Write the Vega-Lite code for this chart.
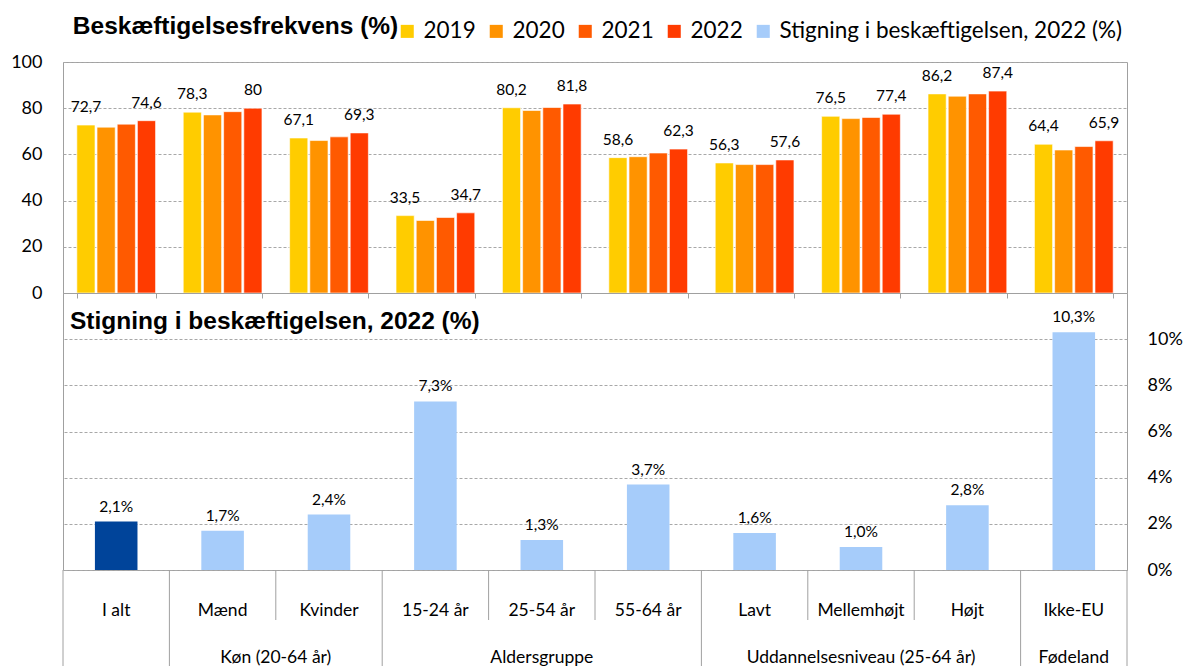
{
  "$schema": "https://vega.github.io/schema/vega-lite/v6.json",
  "background": "white",
  "padding": {"left": 10, "top": 13, "right": 2, "bottom": 0},
  "bounds": "flush",
  "spacing": 0,
  "config": {
    "locale": {"number": {"decimal": ",", "thousands": ".", "grouping": [3], "currency": ["", " kr."]}},
    "view": {"stroke": "#A0A0A0", "strokeWidth": 1},
    "axis": {"labelFont": "Lato", "labelFontSize": 18, "labelColor": "#000000", "gridColor": "#A8A8A8", "gridDash": [3, 2], "gridWidth": 1}
  },
  "datasets": {
    "rates": [
      {"cat": "I alt", "year": "2019", "value": 72.7}, {"cat": "I alt", "year": "2020", "value": 71.8}, {"cat": "I alt", "year": "2021", "value": 73.1}, {"cat": "I alt", "year": "2022", "value": 74.6},
      {"cat": "Mænd", "year": "2019", "value": 78.3}, {"cat": "Mænd", "year": "2020", "value": 77.1}, {"cat": "Mænd", "year": "2021", "value": 78.5}, {"cat": "Mænd", "year": "2022", "value": 80.0},
      {"cat": "Kvinder", "year": "2019", "value": 67.1}, {"cat": "Kvinder", "year": "2020", "value": 66.0}, {"cat": "Kvinder", "year": "2021", "value": 67.6}, {"cat": "Kvinder", "year": "2022", "value": 69.3},
      {"cat": "15-24 år", "year": "2019", "value": 33.5}, {"cat": "15-24 år", "year": "2020", "value": 31.4}, {"cat": "15-24 år", "year": "2021", "value": 32.7}, {"cat": "15-24 år", "year": "2022", "value": 34.7},
      {"cat": "25-54 år", "year": "2019", "value": 80.2}, {"cat": "25-54 år", "year": "2020", "value": 79.0}, {"cat": "25-54 år", "year": "2021", "value": 80.3}, {"cat": "25-54 år", "year": "2022", "value": 81.8},
      {"cat": "55-64 år", "year": "2019", "value": 58.6}, {"cat": "55-64 år", "year": "2020", "value": 59.0}, {"cat": "55-64 år", "year": "2021", "value": 60.6}, {"cat": "55-64 år", "year": "2022", "value": 62.3},
      {"cat": "Lavt", "year": "2019", "value": 56.3}, {"cat": "Lavt", "year": "2020", "value": 55.6}, {"cat": "Lavt", "year": "2021", "value": 55.6}, {"cat": "Lavt", "year": "2022", "value": 57.6},
      {"cat": "Mellemhøjt", "year": "2019", "value": 76.5}, {"cat": "Mellemhøjt", "year": "2020", "value": 75.5}, {"cat": "Mellemhøjt", "year": "2021", "value": 76.0}, {"cat": "Mellemhøjt", "year": "2022", "value": 77.4},
      {"cat": "Højt", "year": "2019", "value": 86.2}, {"cat": "Højt", "year": "2020", "value": 85.2}, {"cat": "Højt", "year": "2021", "value": 86.2}, {"cat": "Højt", "year": "2022", "value": 87.4},
      {"cat": "Ikke-EU", "year": "2019", "value": 64.4}, {"cat": "Ikke-EU", "year": "2020", "value": 61.9}, {"cat": "Ikke-EU", "year": "2021", "value": 63.4}, {"cat": "Ikke-EU", "year": "2022", "value": 65.9}
    ],
    "rise": [
      {"cat": "I alt", "rise": 0.021}, {"cat": "Mænd", "rise": 0.017}, {"cat": "Kvinder", "rise": 0.024},
      {"cat": "15-24 år", "rise": 0.073}, {"cat": "25-54 år", "rise": 0.013}, {"cat": "55-64 år", "rise": 0.037},
      {"cat": "Lavt", "rise": 0.016}, {"cat": "Mellemhøjt", "rise": 0.010}, {"cat": "Højt", "rise": 0.028}, {"cat": "Ikke-EU", "rise": 0.103}
    ],
    "cats": [
      {"cat": "I alt", "groupStart": true}, {"cat": "Mænd", "groupStart": true}, {"cat": "Kvinder", "groupStart": false},
      {"cat": "15-24 år", "groupStart": true}, {"cat": "25-54 år", "groupStart": false}, {"cat": "55-64 år", "groupStart": false},
      {"cat": "Lavt", "groupStart": true}, {"cat": "Mellemhøjt", "groupStart": false}, {"cat": "Højt", "groupStart": false}, {"cat": "Ikke-EU", "groupStart": true}
    ],
    "groups": [
      {"label": "Køn (20-64 år)", "cat": "Mænd", "at": "end"},
      {"label": "Aldersgruppe", "cat": "25-54 år", "at": "mid"},
      {"label": "Uddannelsesniveau (25-64 år)", "cat": "Mellemhøjt", "at": "mid"},
      {"label": "Fødeland", "cat": "Ikke-EU", "at": "mid"}
    ]
  },
  "resolve": {"scale": {"x": "independent", "y": "independent", "color": "independent"}},
  "vconcat": [
    {
      "width": 1064,
      "height": 231,
      "layer": [
        {
          "data": {"name": "rates"},
          "mark": {"type": "bar", "stroke": "#ffffff", "strokeOpacity": 0.6, "strokeWidth": 1},
          "encoding": {
            "x": {"field": "cat", "type": "nominal", "sort": ["I alt", "Mænd", "Kvinder", "15-24 år", "25-54 år", "55-64 år", "Lavt", "Mellemhøjt", "Højt", "Ikke-EU"], "scale": {"paddingInner": 0.26, "paddingOuter": 0.13},
                  "axis": {"title": null, "labels": false, "tickBand": "extent", "ticks": true, "tickSize": 5, "tickColor": "#A0A0A0", "domain": false, "grid": false}},
            "y": {"field": "value", "type": "quantitative", "scale": {"domain": [0, 100]},
                  "axis": {"title": null, "values": [0, 20, 40, 60, 80, 100], "grid": true, "domain": false, "ticks": false, "labelPadding": 21}},
            "xOffset": {"field": "year", "type": "nominal", "scale": {"paddingInner": 0.1}},
            "color": {"field": "year", "type": "nominal",
              "scale": {"domain": ["2019", "2020", "2021", "2022", "Stigning i beskæftigelsen, 2022 (%)"], "range": ["#FFCC00", "#FF9300", "#FF5A00", "#FF3B00", "#A6CCFA"]},
              "legend": {"orient": "none", "legendX": 333, "legendY": -42, "direction": "horizontal", "title": null, "symbolType": "square", "symbolSize": 170, "symbolStrokeWidth": 0, "symbolOpacity": 1, "labelFont": "Lato", "labelFontSize": 22.5, "labelColor": "#000000", "labelOffset": 5, "columnPadding": 9, "labelLimit": 500}}
          }
        },
        {
          "data": {"name": "rates"},
          "transform": [{"filter": "datum.year == '2019' || datum.year == '2022'"}],
          "mark": {"type": "text", "baseline": "alphabetic", "dy": -13, "font": "Lato", "fontSize": 15.5, "color": "#000000"},
          "encoding": {
            "x": {"field": "cat", "type": "nominal", "sort": ["I alt", "Mænd", "Kvinder", "15-24 år", "25-54 år", "55-64 år", "Lavt", "Mellemhøjt", "Højt", "Ikke-EU"]},
            "y": {"field": "value", "type": "quantitative"},
            "xOffset": {"field": "year", "type": "nominal"},
            "text": {"field": "value", "type": "quantitative", "format": ".1~f"}
          }
        },
        {
          "data": {"values": [{"cat": "I alt", "t": "Beskæftigelsesfrekvens (%)"}]},
          "mark": {"type": "text", "align": "left", "baseline": "alphabetic", "dx": -4, "dy": -28, "font": "Liberation Sans", "fontSize": 24.5, "fontWeight": "bold", "color": "#000000"},
          "encoding": {
            "x": {"field": "cat", "type": "nominal", "sort": ["I alt", "Mænd", "Kvinder", "15-24 år", "25-54 år", "55-64 år", "Lavt", "Mellemhøjt", "Højt", "Ikke-EU"], "bandPosition": 0},
            "y": {"datum": 100, "type": "quantitative"},
            "text": {"field": "t", "type": "nominal"}
          }
        }
      ]
    },
    {
      "width": 1064,
      "height": 277,
      "layer": [
        {
          "data": {"name": "rise"},
          "mark": {"type": "bar"},
          "encoding": {
            "x": {"field": "cat", "type": "nominal", "sort": ["I alt", "Mænd", "Kvinder", "15-24 år", "25-54 år", "55-64 år", "Lavt", "Mellemhøjt", "Højt", "Ikke-EU"], "scale": {"paddingInner": 0.6, "paddingOuter": 0.3}, "axis": null},
            "y": {"field": "rise", "type": "quantitative", "scale": {"domain": [0, 0.12]},
                  "axis": {"orient": "right", "title": null, "values": [0, 0.02, 0.04, 0.06, 0.08, 0.1], "format": ".0%", "grid": true, "domain": false, "ticks": false, "labelPadding": 20}},
            "color": {"condition": {"test": "datum.cat === 'I alt'", "value": "#00449A"}, "value": "#A6CCFA"}
          }
        },
        {
          "data": {"name": "rise"},
          "mark": {"type": "text", "baseline": "alphabetic", "dy": -10, "font": "Lato", "fontSize": 15.5, "color": "#000000"},
          "encoding": {
            "x": {"field": "cat", "type": "nominal", "sort": ["I alt", "Mænd", "Kvinder", "15-24 år", "25-54 år", "55-64 år", "Lavt", "Mellemhøjt", "Højt", "Ikke-EU"]},
            "y": {"field": "rise", "type": "quantitative"},
            "text": {"field": "rise", "type": "quantitative", "format": ".1%"}
          }
        },
        {
          "data": {"values": [{"cat": "I alt", "t": "Stigning i beskæftigelsen, 2022 (%)"}]},
          "mark": {"type": "text", "align": "left", "baseline": "alphabetic", "dx": -25, "dy": 36, "font": "Liberation Sans", "fontSize": 24.5, "fontWeight": "bold", "color": "#000000"},
          "encoding": {
            "x": {"field": "cat", "type": "nominal", "sort": ["I alt", "Mænd", "Kvinder", "15-24 år", "25-54 år", "55-64 år", "Lavt", "Mellemhøjt", "Højt", "Ikke-EU"], "bandPosition": 0},
            "y": {"datum": 0.12, "type": "quantitative"},
            "text": {"field": "t", "type": "nominal"}
          }
        }
      ]
    },
    {
      "width": 1064,
      "height": 96,
      "view": {"stroke": null},
      "encoding": {
        "x": {"field": "cat", "type": "nominal", "sort": ["I alt", "Mænd", "Kvinder", "15-24 år", "25-54 år", "55-64 år", "Lavt", "Mellemhøjt", "Højt", "Ikke-EU"], "scale": {"paddingInner": 0, "paddingOuter": 0}, "axis": null}
      },
      "layer": [
        {
          "data": {"name": "cats"},
          "mark": {"type": "text", "baseline": "alphabetic", "font": "Lato", "fontSize": 17.5, "color": "#000000"},
          "encoding": {"text": {"field": "cat"}, "y": {"datum": 46, "scale": {"domain": [0, 96], "nice": false, "reverse": true}, "axis": null}}
        },
        {
          "data": {"name": "cats"},
          "transform": [{"filter": "datum.groupStart"}],
          "mark": {"type": "rule", "color": "#A0A0A0", "strokeWidth": 1},
          "encoding": {"x": {"field": "cat", "type": "nominal", "sort": ["I alt", "Mænd", "Kvinder", "15-24 år", "25-54 år", "55-64 år", "Lavt", "Mellemhøjt", "Højt", "Ikke-EU"], "bandPosition": 0}, "y": {"datum": 0}, "y2": {"datum": 96}}
        },
        {
          "data": {"name": "cats"},
          "transform": [{"filter": "!datum.groupStart"}],
          "mark": {"type": "rule", "color": "#A0A0A0", "strokeWidth": 1},
          "encoding": {"x": {"field": "cat", "type": "nominal", "sort": ["I alt", "Mænd", "Kvinder", "15-24 år", "25-54 år", "55-64 år", "Lavt", "Mellemhøjt", "Højt", "Ikke-EU"], "bandPosition": 0}, "y": {"datum": 0}, "y2": {"datum": 50}}
        },
        {
          "data": {"name": "cats"},
          "transform": [{"filter": "datum.cat == 'Ikke-EU'"}],
          "mark": {"type": "rule", "color": "#A0A0A0", "strokeWidth": 1},
          "encoding": {"x": {"field": "cat", "type": "nominal", "sort": ["I alt", "Mænd", "Kvinder", "15-24 år", "25-54 år", "55-64 år", "Lavt", "Mellemhøjt", "Højt", "Ikke-EU"], "bandPosition": 1}, "y": {"datum": 0}, "y2": {"datum": 96}}
        },
        {
          "data": {"name": "groups"},
          "transform": [{"filter": "datum.at == 'end'"}],
          "mark": {"type": "text", "baseline": "alphabetic", "font": "Lato", "fontSize": 17.5, "color": "#000000"},
          "encoding": {"x": {"field": "cat", "type": "nominal", "sort": ["I alt", "Mænd", "Kvinder", "15-24 år", "25-54 år", "55-64 år", "Lavt", "Mellemhøjt", "Højt", "Ikke-EU"], "bandPosition": 1}, "text": {"field": "label"}, "y": {"datum": 93}}
        },
        {
          "data": {"name": "groups"},
          "transform": [{"filter": "datum.at == 'mid'"}],
          "mark": {"type": "text", "baseline": "alphabetic", "font": "Lato", "fontSize": 17.5, "color": "#000000"},
          "encoding": {"x": {"field": "cat", "type": "nominal", "sort": ["I alt", "Mænd", "Kvinder", "15-24 år", "25-54 år", "55-64 år", "Lavt", "Mellemhøjt", "Højt", "Ikke-EU"], "bandPosition": 0.5}, "text": {"field": "label"}, "y": {"datum": 93}}
        }
      ]
    }
  ]
}
